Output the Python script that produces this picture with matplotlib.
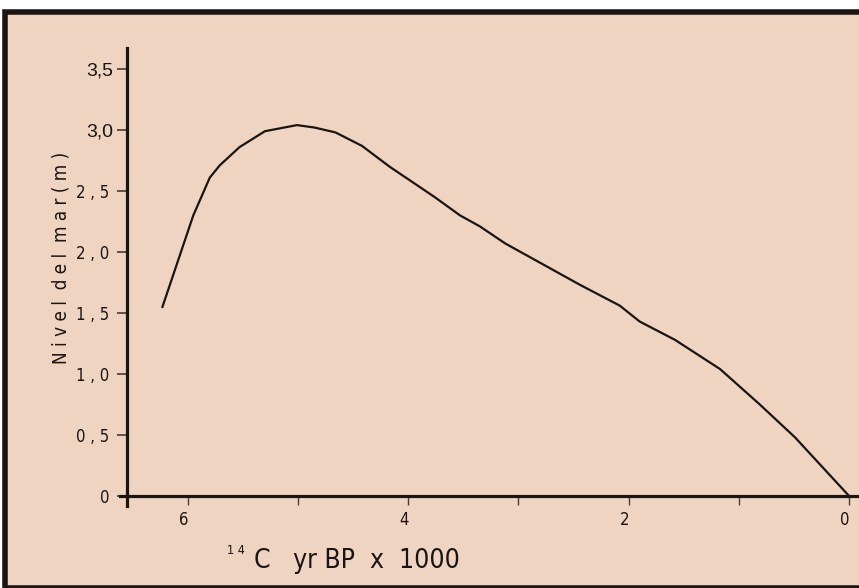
import matplotlib
matplotlib.use('Agg')
import matplotlib.pyplot as plt
from matplotlib.patches import Rectangle
from matplotlib.transforms import ScaledTranslation

# sea level curve
age_kyr = [6.23, 5.95, 5.80, 5.71, 5.53, 5.30, 5.01, 4.85, 4.66, 4.42, 4.17,
           3.76, 3.53, 3.35, 3.12, 2.80, 2.44, 2.08, 1.90, 1.58, 1.17, 0.81,
           0.49, 0.0]
level_m = [1.55, 2.30, 2.61, 2.71, 2.86, 2.99, 3.04, 3.02, 2.98, 2.87, 2.70,
           2.45, 2.30, 2.21, 2.07, 1.91, 1.73, 1.56, 1.43, 1.28, 1.04, 0.75,
           0.48, 0.0]

y_ticks = [0, 0.5, 1.0, 1.5, 2.0, 2.5, 3.0, 3.5]
y_labels = ['0', '0 , 5', '1 , 0', '1 , 5', '2 , 0', '2 , 5', '3,0', '3,5']
x_major = [6, 4, 2, 0]
x_minor = [5, 3, 1]

bg = '#efd4c2'
ink = '#1a1412'

fig = plt.figure(figsize=(8.59, 5.88), dpi=100)
fig.patch.set_facecolor('white')

# dark frame around the panel
W, H = 859, 588
fig.patches.append(Rectangle((5 / W, 0), 1, 1 - 12 / H, transform=fig.transFigure,
                             facecolor=bg, edgecolor=ink, linewidth=4, zorder=-5))

ax = fig.add_axes([120 / W, 1 - 506 / H, (859 - 120) / W, (506 - 48) / H])
ax.set_zorder(2)
ax.set_facecolor('none')
ax.plot(age_kyr, level_m, color=ink, linewidth=1.6)

ax.set_xlim(6.615, -0.09)
ax.set_ylim(-0.082, 3.672)

for s in ['top', 'right']:
    ax.spines[s].set_visible(False)
ax.spines['left'].set_position(('data', 6.55))
ax.spines['bottom'].set_position(('data', 0))
for s in ['left', 'bottom']:
    ax.spines[s].set_linewidth(2.3)
    ax.spines[s].set_color(ink)

ax.set_yticks(y_ticks)
ax.set_yticklabels(y_labels)
ax.set_xticks(x_major)
ax.set_xticks(x_minor, minor=True)
ax.set_xticklabels([str(v) for v in x_major])
ax.tick_params(axis='y', direction='out', length=7, width=1.2, color='#4a3a34',
               pad=6, labelsize=12, labelcolor=ink)
ax.tick_params(axis='x', which='both', direction='out', length=6.5, width=1,
               color='#4a3a34', pad=4, labelsize=12, labelcolor=ink)

shift_r = ScaledTranslation(4 / 100, 0, fig.dpi_scale_trans)
shift_l = ScaledTranslation(-4 / 100, 0, fig.dpi_scale_trans)
for lbl in ax.get_yticklabels():
    if ' ' not in lbl.get_text() and ',' in lbl.get_text():
        lbl.set_family('Liberation Sans')
        lbl.set_fontsize(14)
        lbl.set_transform(lbl.get_transform() + shift_r)
    else:
        lbl.set_fontstretch('condensed')
for lbl in ax.get_xticklabels():
    lbl.set_fontstretch('condensed')
    lbl.set_transform(lbl.get_transform() + shift_l)

fig.text(61 / W, 1 - 258 / H, 'N i v e l  d e l  m a r ( m )', rotation=90,
         ha='center', va='center', fontsize=13.5, fontstretch='condensed', color=ink)
fig.text(227 / W, 1 - 551 / H, '1 4', fontsize=9, fontstretch='condensed', color=ink,
         ha='left', va='center')
fig.text(254 / W, 1 - 561 / H, 'C   yr BP  x  1000', fontsize=19,
         fontstretch='condensed', color=ink, ha='left', va='center')

fig.savefig('out.png', dpi=100, facecolor=fig.get_facecolor())
